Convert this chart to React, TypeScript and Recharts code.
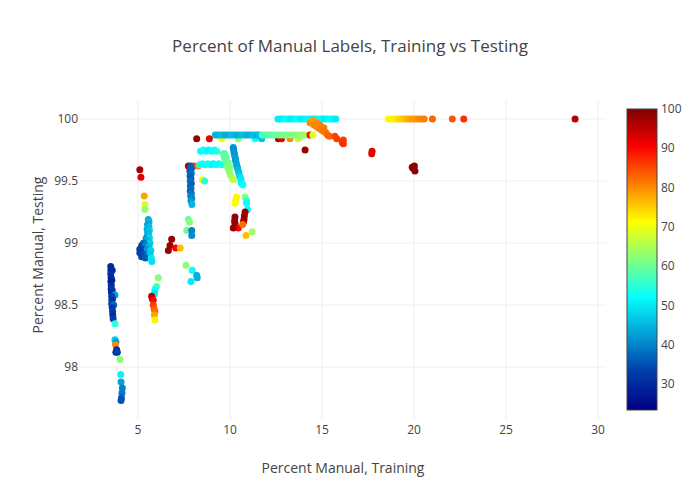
import React from 'react';
import { ScatterChart, Scatter, XAxis, YAxis, ReferenceLine } from 'recharts';

// [percent manual in training, percent manual in testing, colour value]
type Pt = [number, number, number];

const xTicks = [5, 10, 15, 20, 25, 30];
const yTicks = [98, 98.5, 99, 99.5, 100];
const colorTicks = [30, 40, 50, 60, 70, 80, 90, 100];

const leftColumn: Pt[] = [
  [3.52, 98.81, 30], [3.53, 98.78, 29], [3.6, 98.78, 30], [3.52, 98.75, 31], [3.54, 98.72, 30],
  [3.58, 98.7, 31], [3.53, 98.69, 28], [3.55, 98.66, 30], [3.54, 98.63, 32], [3.6, 98.62, 32],
  [3.56, 98.6, 30], [3.75, 98.58, 43], [3.57, 98.57, 33], [3.62, 98.55, 34], [3.58, 98.54, 31],
  [3.57, 98.51, 34], [3.68, 98.5, 37], [3.6, 98.48, 32], [3.62, 98.45, 33], [3.63, 98.42, 31],
  [3.65, 98.39, 33], [3.75, 98.35, 55],
  [3.75, 98.22, 47], [3.8, 98.2, 42], [3.78, 98.18, 80], [3.84, 98.14, 31], [3.8, 98.12, 32],
  [3.88, 98.12, 33], [4.02, 98.06, 62], [4.06, 97.94, 51], [4.08, 97.88, 43], [4.15, 97.83, 40],
  [4.13, 97.79, 39], [4.1, 97.75, 36], [4.08, 97.73, 35],
];

const fiveCluster: Pt[] = [
  [5.1, 99.59, 97], [5.16, 99.53, 92], [5.34, 99.38, 78], [5.38, 99.31, 68], [5.38, 99.27, 63],
  [5.56, 99.19, 44], [5.6, 99.17, 45], [5.52, 99.15, 43], [5.6, 99.13, 46], [5.5, 99.11, 44],
  [5.62, 99.1, 47], [5.52, 99.08, 45], [5.58, 99.06, 46], [5.45, 99.04, 42], [5.62, 99.04, 48],
  [5.5, 99.02, 44], [5.3, 99.0, 38], [5.65, 99.0, 47], [5.2, 98.98, 35], [5.4, 98.98, 40],
  [5.6, 98.97, 46], [5.1, 98.95, 33], [5.25, 98.95, 34], [5.5, 98.95, 42], [5.7, 98.94, 48],
  [5.1, 98.92, 33], [5.3, 98.91, 35], [5.45, 98.9, 38], [5.65, 98.91, 46], [5.2, 98.89, 34],
  [5.4, 98.88, 36], [5.72, 98.88, 50], [5.75, 98.85, 49],
  [6.1, 98.72, 62], [6.02, 98.65, 60], [5.96, 98.64, 56], [5.92, 98.62, 52], [5.89, 98.59, 50],
  [5.74, 98.57, 95], [5.78, 98.55, 96], [5.83, 98.54, 90], [5.83, 98.5, 86], [5.88, 98.47, 84],
  [5.92, 98.45, 82], [5.89, 98.42, 78], [5.92, 98.38, 72],
  [6.83, 99.03, 98], [6.74, 98.98, 98], [6.65, 98.94, 98], [7.05, 98.96, 90], [7.3, 98.96, 76],
];

const eightColumn: Pt[] = [
  [7.74, 99.62, 97], [8.05, 99.62, 86], [8.28, 99.62, 80],
  [7.85, 99.62, 36], [7.9, 99.6, 37], [7.82, 99.58, 36], [7.9, 99.56, 38], [7.83, 99.54, 37],
  [7.88, 99.52, 36], [7.84, 99.5, 38], [7.9, 99.48, 37], [7.85, 99.46, 36], [7.88, 99.44, 38],
  [7.84, 99.42, 37], [7.9, 99.4, 39], [7.86, 99.38, 40], [7.92, 99.36, 40], [7.88, 99.34, 42],
  [7.93, 99.31, 45], [8.5, 99.51, 72], [8.62, 99.5, 55],
  [7.74, 99.19, 60], [7.8, 99.17, 62], [7.65, 99.1, 60], [7.92, 99.1, 40], [7.92, 99.06, 41],
  [7.61, 98.82, 62], [7.95, 98.78, 52], [8.19, 98.74, 45], [8.22, 98.72, 44], [7.88, 98.69, 50],
];

const midRows: Pt[] = [
  // cyan rows near 99.75 and 99.63
  [8.4, 99.74, 52], [8.55, 99.75, 53], [8.7, 99.74, 52], [8.85, 99.75, 51], [9.0, 99.74, 52],
  [9.15, 99.75, 53], [9.28, 99.74, 54],
  [8.35, 99.63, 54], [8.5, 99.64, 53], [8.65, 99.63, 52], [8.8, 99.64, 53], [8.95, 99.63, 52],
  [9.1, 99.64, 51], [9.25, 99.63, 53], [9.4, 99.64, 52], [9.55, 99.63, 54], [9.7, 99.64, 53],
  // green slant
  [9.64, 99.72, 58], [9.72, 99.72, 58], [9.68, 99.7, 59], [9.8, 99.69, 59], [9.72, 99.68, 59],
  [9.76, 99.66, 60], [9.9, 99.65, 60], [9.8, 99.64, 60], [9.85, 99.62, 61], [10.0, 99.61, 62],
  [9.9, 99.6, 61], [9.95, 99.58, 62], [10.0, 99.56, 63], [10.05, 99.54, 63], [10.12, 99.52, 65],
  [10.18, 99.51, 66],
  // blue slant
  [10.18, 99.77, 42], [10.2, 99.75, 41], [10.22, 99.73, 42], [10.25, 99.71, 42], [10.28, 99.69, 43],
  [10.3, 99.67, 42], [10.33, 99.65, 43], [10.36, 99.63, 44], [10.4, 99.61, 44], [10.43, 99.59, 45],
  [10.47, 99.57, 46], [10.5, 99.55, 47], [10.55, 99.53, 49], [10.6, 99.51, 50], [10.62, 99.48, 51],
  [10.7, 99.47, 52],
  // cluster around 10.5, 99.2
  [10.36, 99.37, 72], [10.3, 99.34, 72], [10.27, 99.32, 71], [10.82, 99.37, 62], [10.9, 99.34, 56],
  [10.9, 99.32, 52], [10.96, 99.27, 52], [10.27, 99.21, 98], [10.25, 99.18, 98], [10.27, 99.16, 98],
  [10.82, 99.25, 97], [10.78, 99.22, 97], [10.76, 99.19, 98], [10.73, 99.17, 97], [10.45, 99.12, 90],
  [10.18, 99.12, 98], [10.69, 99.15, 82], [10.87, 99.06, 76], [11.21, 99.09, 64],
];

const topRows: Pt[] = [
  // points just under the 99.87 row
  [8.19, 99.84, 98], [8.88, 99.84, 92], [9.55, 99.84, 72], [10.45, 99.84, 62], [11.36, 99.84, 52],
  [11.72, 99.84, 46], [12.63, 99.84, 98], [12.8, 99.84, 92], [13.26, 99.84, 80], [13.7, 99.84, 66],
  // blue row 99.87
  [9.2, 99.87, 45], [9.35, 99.87, 44], [9.5, 99.87, 46], [9.65, 99.87, 45], [9.8, 99.87, 44],
  [9.95, 99.87, 45], [10.1, 99.87, 46], [10.25, 99.87, 45], [10.4, 99.87, 44], [10.55, 99.87, 45],
  [10.7, 99.87, 46], [10.85, 99.87, 45], [11.0, 99.87, 44], [11.15, 99.87, 45], [11.3, 99.87, 46],
  [11.45, 99.87, 45], [11.6, 99.87, 46],
  // green row 99.87
  [11.75, 99.87, 57], [11.9, 99.87, 58], [12.05, 99.87, 58], [12.2, 99.87, 59], [12.35, 99.87, 59],
  [12.5, 99.87, 60], [12.65, 99.87, 60], [12.8, 99.87, 60], [12.95, 99.87, 61], [13.1, 99.87, 61],
  [13.25, 99.87, 61], [13.4, 99.87, 62], [13.55, 99.87, 62], [13.7, 99.87, 62], [13.85, 99.87, 63],
  [14.0, 99.87, 63], [14.15, 99.87, 64], [14.35, 99.87, 90], [14.5, 99.87, 69],
  // cyan row at 100
  [12.6, 100, 51], [12.75, 100, 50], [12.9, 100, 51], [13.05, 100, 52], [13.2, 100, 51],
  [13.35, 100, 50], [13.5, 100, 51], [13.65, 100, 52], [13.8, 100, 51], [13.95, 100, 50],
  [14.1, 100, 51], [14.25, 100, 52], [14.4, 100, 51], [14.55, 100, 50], [14.7, 100, 51],
  [14.85, 100, 52], [15.0, 100, 51], [15.15, 100, 50], [15.3, 100, 51], [15.45, 100, 52],
  [15.6, 100, 51], [15.75, 100, 50],
  // orange band
  [14.35, 99.97, 80], [14.5, 99.99, 79], [14.5, 99.96, 79], [14.6, 99.95, 80], [14.7, 99.97, 80],
  [14.7, 99.94, 81], [14.8, 99.93, 80], [14.9, 99.95, 81], [14.9, 99.92, 81], [15.0, 99.91, 81],
  [15.1, 99.93, 81], [15.1, 99.9, 82], [15.2, 99.89, 82], [15.3, 99.87, 83], [15.4, 99.86, 83],
  [15.7, 99.86, 85], [15.8, 99.84, 86], [16.16, 99.83, 86], [16.1, 99.81, 86], [16.16, 99.8, 87],
  [14.08, 99.75, 98], [17.7, 99.72, 92], [17.72, 99.74, 92],
];

const rightRow: Pt[] = [
  [18.6, 100, 71], [18.75, 100, 72], [18.9, 100, 72], [19.05, 100, 73], [19.2, 100, 74],
  [19.35, 100, 75], [19.5, 100, 76], [19.65, 100, 77], [19.8, 100, 78], [19.95, 100, 79],
  [20.1, 100, 79], [20.25, 100, 80], [20.4, 100, 80], [20.55, 100, 81], [21.0, 100, 83],
  [22.08, 100, 84], [22.7, 100, 87], [28.75, 100, 96],
  [19.9, 99.61, 99], [20.02, 99.62, 99], [19.96, 99.6, 99], [20.05, 99.58, 99],
];

const points = [...leftColumn, ...fiveCluster, ...eightColumn, ...midRows, ...topRows, ...rightRow].map(
  ([x, y, z]) => ({ x, y, z })
);

const C_MIN = 23.4;
const C_MAX = 100;
const jetStops: [number, number[]][] = [
  [0, [0, 0, 131]],
  [0.125, [0, 60, 170]],
  [0.375, [5, 255, 255]],
  [0.625, [255, 255, 0]],
  [0.875, [250, 0, 0]],
  [1, [128, 0, 0]],
];

const jet = (v: number) => {
  const t = Math.max(0, Math.min(1, (v - C_MIN) / (C_MAX - C_MIN)));
  for (let i = 1; i < jetStops.length; i++) {
    const [t1, c1] = jetStops[i];
    const [t0, c0] = jetStops[i - 1];
    if (t <= t1) {
      const f = (t - t0) / (t1 - t0);
      const c = c0.map((a, k) => Math.round(a + (c1[k] - a) * f));
      return `rgb(${c[0]},${c[1]},${c[2]})`;
    }
  }
  return 'rgb(128,0,0)';
};

const Dot = (p: any) => <circle cx={p.cx} cy={p.cy} r={3.5} fill={jet(p.payload.z)} />;

const font = '"Open Sans", sans-serif';
const tickStyle = { fill: '#444', fontSize: 12, fontFamily: font };

// colour bar box
const barX = 627;
const barTop = 109;
const barH = 301;
const barY = (v: number) => barTop + barH - ((v - C_MIN) / (C_MAX - C_MIN)) * barH;

export default function App() {
  return (
    <div style={{ position: 'absolute', left: 0, top: 0, width: 700, height: 500, background: '#fff', fontFamily: font }}>
      <ScatterChart width={700} height={500} margin={{ top: 100, right: 94, bottom: 0, left: 0 }}>
        <XAxis
          type="number"
          dataKey="x"
          domain={[1.85, 30.43]}
          ticks={xTicks}
          height={80}
          axisLine={false}
          tickLine={false}
          tickSize={0}
          tickMargin={5}
          tick={tickStyle}
        />
        <YAxis
          type="number"
          dataKey="y"
          domain={[97.573, 100.153]}
          ticks={yTicks}
          width={80}
          axisLine={false}
          tickLine={false}
          tickSize={0}
          tickMargin={2}
          tick={tickStyle}
        />
        {xTicks.map((t) => (
          <ReferenceLine key={`gx${t}`} x={t} stroke="#eee" strokeWidth={1} />
        ))}
        {yTicks.map((t) => (
          <ReferenceLine key={`gy${t}`} y={t} stroke="#eee" strokeWidth={1} />
        ))}
        <Scatter data={points} isAnimationActive={false} shape={Dot} />
      </ScatterChart>
      <svg width={700} height={500} style={{ position: 'absolute', left: 0, top: 0, pointerEvents: 'none' }}>
        <defs>
          <linearGradient id="jetBar" x1="0" y1="1" x2="0" y2="0">
            {jetStops.map(([t, c]) => (
              <stop key={t} offset={t} stopColor={`rgb(${c[0]},${c[1]},${c[2]})`} />
            ))}
          </linearGradient>
        </defs>
        <text x={350} y={52} textAnchor="middle" fontSize={17} fill="#444" fontFamily={font}>
          Percent of Manual Labels, Training vs Testing
        </text>
        <text x={343} y={473} textAnchor="middle" fontSize={14} fill="#444" fontFamily={font}>
          Percent Manual, Training
        </text>
        <text x={43} y={255} textAnchor="middle" fontSize={14} fill="#444" fontFamily={font} transform="rotate(-90 43 255)">
          Percent Manual, Testing
        </text>
        <rect x={barX} y={barTop} width={30} height={barH} fill="url(#jetBar)" stroke="#444" strokeWidth={1} />
        {colorTicks.map((v) => (
          <text key={v} x={barX + 34} y={barY(v)} dy="0.35em" fontSize={12} fill="#444" fontFamily={font}>
            {v}
          </text>
        ))}
      </svg>
    </div>
  );
}
